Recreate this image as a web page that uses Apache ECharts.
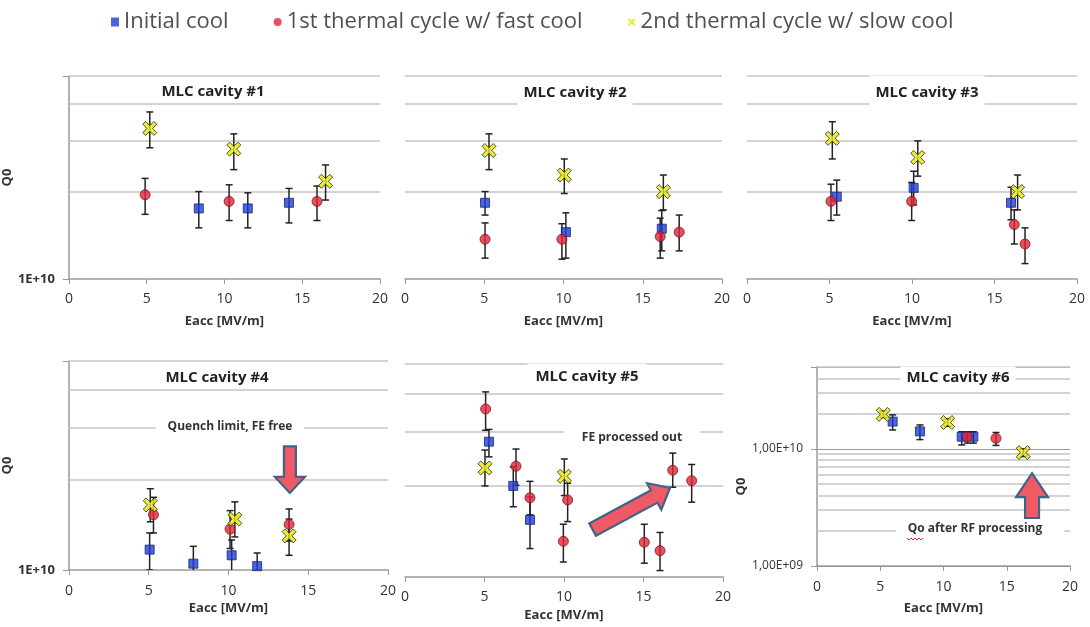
<!DOCTYPE html>
<html><head><meta charset="utf-8">
<script src="https://cdn.jsdelivr.net/npm/echarts@6/dist/echarts.min.js"></script>
<style>html,body{margin:0;padding:0;background:#fff}#c{width:1090px;height:627px}</style>
</head><body><div id="c"></div>
<script>
// Q0 values in units of 1E+10; each point: [Eacc (MV/m), Q0, Q0 low, Q0 high]
const QU = 1e10;
const seriesNames = ['Initial cool', '1st thermal cycle w/ fast cool', '2nd thermal cycle w/ slow cool'];
const panelTitles = ['MLC cavity #1', 'MLC cavity #2', 'MLC cavity #3', 'MLC cavity #4', 'MLC cavity #5', 'MLC cavity #6'];
const xTicks = [0, 5, 10, 15, 20];

const c1Initial = [[8.35,1.75,1.50,2.00],[11.5,1.75,1.50,1.98],[14.15,1.83,1.56,2.05]];
const c1Fast    = [[4.9,1.95,1.67,2.22],[10.3,1.85,1.59,2.11],[15.95,1.85,1.59,2.09]];
const c1Slow    = [[5.2,3.30,2.83,3.76],[10.6,2.80,2.38,3.16],[16.5,2.17,1.87,2.47]];

const c2Initial = [[5.05,1.83,1.66,2.00],[10.15,1.45,1.18,1.69],[16.2,1.49,1.25,1.72]];
const c2Fast    = [[5.05,1.37,1.18,1.56],[9.9,1.37,1.17,1.55],[16.1,1.40,1.18,1.62],[17.3,1.45,1.25,1.66]];
const c2Slow    = [[5.3,2.77,2.38,3.16],[10.05,2.28,1.97,2.59],[16.3,2.00,1.73,2.28]];

const c3Initial = [[5.44,1.92,1.66,2.19],[10.1,2.06,1.80,2.35],[16.0,1.83,1.60,2.07]];
const c3Fast    = [[5.09,1.85,1.59,2.12],[9.98,1.85,1.59,2.15],[16.2,1.54,1.32,1.73],[16.85,1.32,1.13,1.50]];
const c3Slow    = [[5.17,3.05,2.59,3.48],[10.35,2.62,2.26,2.99],[16.4,2.00,1.73,2.28]];

const c4Initial = [[5.06,1.17,1.00,1.33],[7.8,1.05,0.92,1.20],[10.2,1.12,0.95,1.26],[11.8,1.03,0.90,1.14]];
const c4Fast    = [[5.3,1.53,1.33,1.75],[10.1,1.37,1.18,1.58],[13.8,1.42,1.25,1.60]];
const c4Slow    = [[5.1,1.65,1.45,1.87],[10.4,1.48,1.29,1.69],[13.8,1.30,1.12,1.48]];

const c5Initial = [[5.28,2.78,2.48,3.05],[6.81,1.99,1.70,2.30],[7.86,1.54,1.24,1.83]];
const c5Fast    = [[5.07,3.56,3.03,4.05],[6.98,2.31,2.00,2.63],[7.86,1.82,1.60,2.06],[10.23,1.79,1.52,2.03],
                   [9.96,1.31,1.12,1.49],[15.05,1.30,1.11,1.49],[16.04,1.22,1.05,1.40],[16.84,2.24,1.97,2.55],[18.03,2.07,1.76,2.34]];
const c5Slow    = [[5.03,2.28,1.99,2.61],[10.02,2.14,1.85,2.44]];

const c6Initial = [[5.98,1.71,1.45,1.95],[8.14,1.41,1.20,1.60],[11.44,1.27,1.08,1.40],[12.36,1.27,1.12,1.40]];
const c6Fast    = [[11.88,1.27,1.12,1.40],[14.15,1.23,1.07,1.38]];
const c6Slow    = [[5.24,1.97,1.85,2.10],[10.33,1.68,1.56,1.80],[16.3,0.93,0.86,1.00]];

// y-axis ranges (units of 1E+10) and gridline values
const yRange = [[1,5],[1,5],[1,5],[1,5],[1,5],[0.1,5]];
const gridLinesMain = [2,3,4,5];
const gridLinesP6 = [0.2,0.3,0.4,0.5,0.6,0.7,0.8,0.9,2,3,4,5];

// annotation arrows [x start, Q0 start, x tip, Q0 tip]
const arrowsData = {3: [13.85,2.59,13.85,1.81], 4: [11.8,1.43,16.67,1.96], 5: [17.0,0.257,17.0,0.62]};
const annotations = {3: 'Quench limit, FE free', 4: 'FE processed out', 5: 'Qo after RF processing'};

const panelData = [
  [c1Initial,c1Fast,c1Slow],[c2Initial,c2Fast,c2Slow],[c3Initial,c3Fast,c3Slow],
  [c4Initial,c4Fast,c4Slow],[c5Initial,c5Fast,c5Slow],[c6Initial,c6Fast,c6Slow]
];

// ---------- layout & style ----------
const FONT = 'Open Sans';
const grids = [
  {left:67, top:76, width:313, height:203},
  {left:405, top:76, width:317, height:203},
  {left:747, top:76, width:330, height:203},
  {left:68, top:361, width:320, height:209},
  {left:405, top:364, width:318, height:213},
  {left:817, top:367, width:253, height:199}
];
const showYAxis = [true,false,false,true,false,true];
const xNameGap = [36,36,36,32,32,36];
const xLabelMargin = [13,13,13,14,13,14];
const titlePos = [[213,92,[3,6]],[575,93,[5,6]],[927,93,[10,6]],[217,378,[3,6]],[587,377,[6,8]],[958,378,[4,6]]];
const annotPos = {3:[230,427,[4,12]], 4:[632,438,[5,18]], 5:[980,529,[4,22,4,12]]};
const arrowGeom = {3:{sh:6,hh:15,hl:16}, 4:{sh:7,hh:15,hl:18}, 5:{sh:7,hh:16,hl:24}};

const XPATH = 'path://M2,0 L5,3 L8,0 L10,2 L7,5 L10,8 L8,10 L5,7 L2,10 L0,8 L3,5 L0,2 Z';
const markerStyles = [
  {symbol:'rect', symbolSize:9, itemStyle:{color:'#1f3fd4', borderColor:'#15257a', borderWidth:1}},
  {symbol:'circle', symbolSize:10, itemStyle:{color:'#e0243a', borderColor:'#7a1a1a', borderWidth:1}},
  {symbol:XPATH, symbolSize:14, itemStyle:{color:'#e6e614', borderColor:'#2a2a00', borderWidth:1}}
];

function fmtLabel(p){
  return function(v){
    const e = Math.log10(v);
    if (Math.abs(e-10) < 0.01) return p === 5 ? '1,00E+10' : '1E+10';
    if (Math.abs(e-9) < 0.01) return '1,00E+09';
    return '';
  };
}

function errRender(params, api){
  const x = api.value(0);
  const a = api.coord([x, api.value(1)]);
  const b = api.coord([x, api.value(2)]);
  const w = 3.5, st = {stroke:'#222', lineWidth:1.5};
  return {type:'group', children:[
    {type:'line', shape:{x1:a[0],y1:a[1],x2:b[0],y2:b[1]}, style:st},
    {type:'line', shape:{x1:a[0]-w,y1:a[1],x2:a[0]+w,y2:a[1]}, style:st},
    {type:'line', shape:{x1:b[0]-w,y1:b[1],x2:b[0]+w,y2:b[1]}, style:st}
  ]};
}

function makeArrowRender(g){
  return function(params, api){
    const p = api.coord([api.value(0), api.value(1)]);
    const t = api.coord([api.value(2), api.value(3)]);
    const dx = t[0]-p[0], dy = t[1]-p[1], L = Math.hypot(dx,dy);
    const ux = dx/L, uy = dy/L, nx = -uy, ny = ux;
    const hx = t[0]-ux*g.hl, hy = t[1]-uy*g.hl;
    const pts = [
      [p[0]+nx*g.sh, p[1]+ny*g.sh], [hx+nx*g.sh, hy+ny*g.sh], [hx+nx*g.hh, hy+ny*g.hh],
      [t[0], t[1]], [hx-nx*g.hh, hy-ny*g.hh], [hx-nx*g.sh, hy-ny*g.sh], [p[0]-nx*g.sh, p[1]-ny*g.sh]
    ];
    return {type:'polygon', shape:{points:pts}, style:{fill:'#f05a64', stroke:'#3e6487', lineWidth:2.2}};
  };
}

const option = {
  animation:false,
  textStyle:{fontFamily:FONT},
  legend:{
    left:106, top:6, itemGap:45, itemWidth:8, itemHeight:9,
    textStyle:{fontSize:22, color:'#505050', fontFamily:FONT},
    itemStyle:{borderWidth:0},
    data:[{name:seriesNames[0], icon:'rect'},{name:seriesNames[1], icon:'circle'},{name:seriesNames[2], icon:XPATH}]
  },
  grid: grids.map(g => Object.assign({containLabel:false}, g)),
  xAxis: grids.map((g,i) => ({
    type:'value', gridIndex:i, min:xTicks[0], max:xTicks[xTicks.length-1], interval:5,
    name:'Eacc [MV/m]', nameLocation:'middle', nameGap:xNameGap[i],
    nameTextStyle:{fontSize:13, fontWeight:'bold', color:'#333', fontFamily:FONT},
    axisLine:{onZero:false, lineStyle:{color:'#9a9a9a', width:1.5}},
    axisTick:{show:true, length:5, lineStyle:{color:'#9a9a9a'}},
    axisLabel:{fontSize:14, color:'#333', margin:xLabelMargin[i], fontFamily:FONT},
    splitLine:{show:false}
  })),
  yAxis: grids.map((g,i) => ({
    type:'log', logBase:10, gridIndex:i, min:yRange[i][0]*QU, max:yRange[i][1]*QU,
    name: showYAxis[i] ? 'Q0' : '', nameLocation:'middle', nameRotate:90, nameGap:34,
    nameTextStyle:{fontSize:13, fontWeight:'bold', color:'#333', fontFamily:FONT, padding: i===5 ? [0,40,0,0] : 0},
    axisLine:{show:showYAxis[i], lineStyle:{color:'#9a9a9a', width:1.5}},
    axisTick:{show:showYAxis[i], length:6, lineStyle:{color:'#9a9a9a'}},
    axisLabel:{show:showYAxis[i], formatter:fmtLabel(i), fontSize: i===5 ? 12 : 13, fontWeight: i===5 ? 'normal' : 'bold', color:'#333', margin:14, fontFamily:FONT},
    splitLine:{show:i===5, lineStyle:{color:'#9a9a9a', width:1.2}}
  })),
  series:[],
  graphic:[]
};

panelData.forEach((groups, p) => {
  const gl = p === 5 ? gridLinesP6 : gridLinesMain;
  groups.forEach((arr, k) => {
    const s = {
      type:'scatter', name:seriesNames[k], xAxisIndex:p, yAxisIndex:p, z:10,
      symbol:markerStyles[k].symbol, symbolSize:markerStyles[k].symbolSize,
      itemStyle:markerStyles[k].itemStyle,
      data: arr.map(d => [d[0], d[1]*QU])
    };
    if (k === 0) {
      s.markLine = {silent:true, symbol:'none', z:1, label:{show:false},
        lineStyle:{color:'#c4c4c4', width:1.5, type:'solid'},
        data: gl.map(v => ({yAxis: v*QU}))};
    }
    option.series.push(s);
  });
  option.series.push({
    type:'custom', name:'err'+p, xAxisIndex:p, yAxisIndex:p, z:8, clip:true, silent:true,
    renderItem:errRender, encode:{x:0, y:[1,2]},
    data: groups.flat().map(d => [d[0], d[2]*QU, d[3]*QU])
  });
  if (arrowsData[p]) {
    const a = arrowsData[p];
    option.series.push({
      type:'custom', name:'arrow'+p, xAxisIndex:p, yAxisIndex:p, z:20, silent:true,
      renderItem:makeArrowRender(arrowGeom[p]), encode:{x:[0,2], y:[1,3]},
      data:[[a[0], a[1]*QU, a[2], a[3]*QU]]
    });
  }
  const tp = titlePos[p];
  option.graphic.push({type:'text', x:tp[0], y:tp[1], z:50, silent:true,
    style:{text:panelTitles[p], fontSize:15, fontWeight:'bold', fontFamily:FONT, fill:'#222',
      align:'center', verticalAlign:'middle', backgroundColor:'#fff', padding:tp[2]}});
  if (annotations[p]) {
    const ap = annotPos[p];
    option.graphic.push({type:'text', x:ap[0], y:ap[1], z:50, silent:true,
      style:{text:annotations[p], fontSize:12, fontWeight:'bold', fontFamily:FONT, fill:'#333',
        align:'center', verticalAlign:'middle', backgroundColor:'#fff', padding:ap[2]}});
  }
});

// red spell-check squiggle under "Qo"
option.graphic.push({type:'polyline', z:51, silent:true,
  shape:{points:[[907,538],[909,540],[911,538],[913,540],[915,538],[917,540],[919,538],[921,540],[923,538]]},
  style:{stroke:'#e03030', lineWidth:1, fill:null}});

const chart = echarts.init(document.getElementById('c'), null, {renderer:'canvas'});
chart.setOption(option);
</script></body></html>
